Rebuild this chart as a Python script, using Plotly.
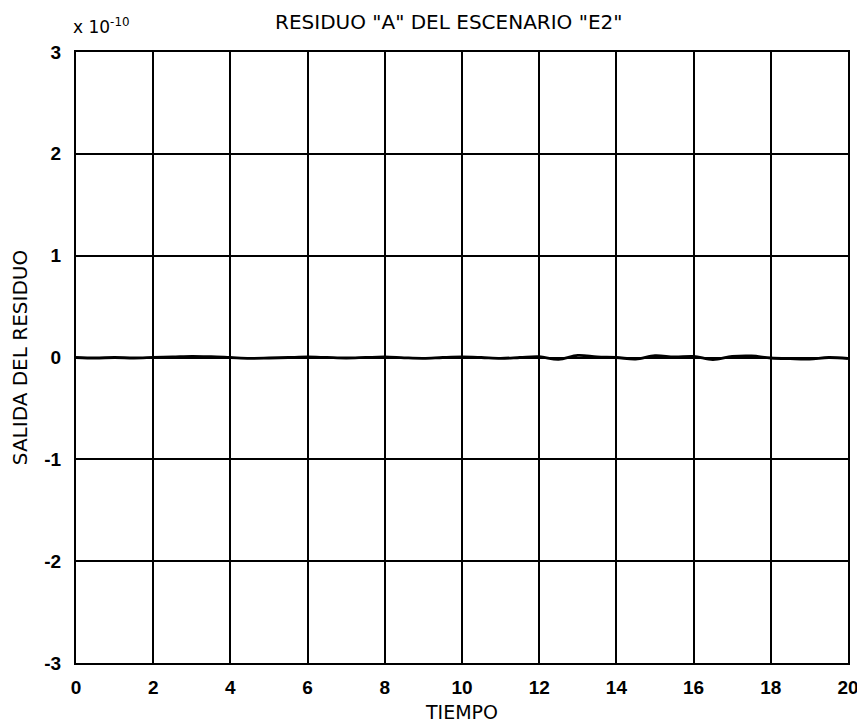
import plotly.graph_objects as go

tiempo = [i * 0.5 for i in range(41)]
residuo = [0.0, -0.005, 0.0, -0.005, 0.0, 0.005, 0.012, 0.008, 0.0, -0.008,
           -0.005, 0.0, 0.005, 0.0, -0.005, 0.0, 0.005, -0.003, -0.008, 0.0,
           0.005, 0.0, -0.008, 0.0, 0.008, -0.018, 0.02, 0.005, 0.0, -0.015,
           0.018, 0.005, 0.01, -0.02, 0.01, 0.015, -0.005, -0.012, -0.015, 0.0,
           -0.01]  # units of 1e-10

x_ticks = [0, 2, 4, 6, 8, 10, 12, 14, 16, 18, 20]
y_ticks = [-3, -2, -1, 0, 1, 2, 3]

FONT = "DejaVu Sans, Liberation Sans, Arial, sans-serif"
TICKFONT = "Liberation Sans, Arial, sans-serif"

fig = go.Figure()
fig.add_trace(go.Scatter(x=tiempo, y=residuo, mode="lines",
                         line=dict(color="black", width=2.8, shape="spline"),
                         showlegend=False))

axis_common = dict(showgrid=True, gridcolor="black", gridwidth=1.5,
                   showline=True, linecolor="black", linewidth=2, mirror=True,
                   zeroline=False, ticks="", automargin=False,
                   tickfont=dict(family=TICKFONT, size=19, color="black", weight="bold"))

# page body has an 8px margin; margins compensate so the plot area sits at x 76-848, y 52-663
fig.update_layout(
    width=865, height=724,
    margin=dict(l=68, r=25, t=44, b=69),
    paper_bgcolor="white", plot_bgcolor="white",
    font=dict(family=FONT, color="black"),
    xaxis=dict(range=[0, 20], tickvals=x_ticks, ticktext=[str(v) for v in x_ticks],
               ticklabelstandoff=6,
               title=dict(text="TIEMPO", font=dict(size=19), standoff=9), **axis_common),
    yaxis=dict(range=[-3, 3], tickvals=y_ticks, ticktext=[str(v) for v in y_ticks],
               ticklabelstandoff=9,
               title=dict(text="SALIDA DEL RESIDUO", font=dict(size=20), standoff=22), **axis_common),
)

fig.add_annotation(text='RESIDUO "A" DEL ESCENARIO "E2"', xref="paper", yref="paper",
                   x=(448 - 76) / 772, y=1, yshift=30, showarrow=False, xanchor="center", yanchor="middle",
                   font=dict(family=FONT, size=20, color="black"))
fig.add_annotation(text="x 10<sup>-10</sup>", xref="paper", yref="paper",
                   x=0, y=1, xshift=-5, yshift=26, showarrow=False, xanchor="left", yanchor="middle",
                   font=dict(family=FONT, size=17, color="black"))

fig.write_html("out.html")
